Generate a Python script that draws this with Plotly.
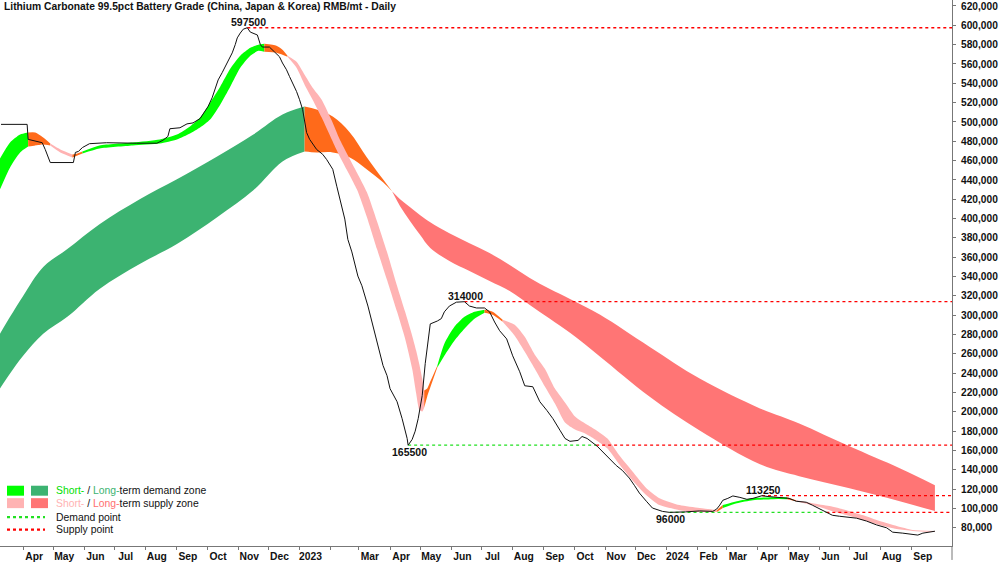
import plotly.graph_objects as go

TITLE = "Lithium Carbonate 99.5pct Battery Grade (China, Japan & Korea) RMB/mt - Daily"

# ---------------- price (black line) ----------------
price_dates = [
    "2022-03-10", "2022-04-05", "2022-04-06", "2022-04-15", "2022-04-20", "2022-04-23", "2022-04-28", "2022-05-21", "2022-05-23", "2022-05-26",
    "2022-05-30", "2022-06-06", "2022-06-23", "2022-07-23", "2022-08-12", "2022-08-18", "2022-08-23", "2022-08-25", "2022-09-04", "2022-09-11",
    "2022-09-17", "2022-09-24", "2022-09-28", "2022-10-02", "2022-10-06", "2022-10-09", "2022-10-12", "2022-10-16", "2022-10-19", "2022-10-22",
    "2022-10-26", "2022-10-29", "2022-10-31", "2022-11-03", "2022-11-06", "2022-11-10", "2022-11-13", "2022-11-20", "2022-11-23", "2022-11-25",
    "2022-12-02", "2022-12-07", "2022-12-12", "2022-12-15", "2022-12-19", "2022-12-22", "2022-12-25", "2022-12-29", "2023-01-01", "2023-01-04",
    "2023-01-08", "2023-01-11", "2023-01-18", "2023-01-24", "2023-01-28", "2023-02-03", "2023-02-07", "2023-02-10", "2023-02-15", "2023-02-18",
    "2023-02-22", "2023-02-28", "2023-03-04", "2023-03-10", "2023-03-15", "2023-03-20", "2023-03-25", "2023-03-29", "2023-04-01", "2023-04-08",
    "2023-04-13", "2023-04-18", "2023-04-19", "2023-04-23", "2023-04-26", "2023-04-29", "2023-05-03", "2023-05-06", "2023-05-09", "2023-05-11",
    "2023-05-18", "2023-05-22", "2023-05-25", "2023-05-30", "2023-06-06", "2023-06-14", "2023-06-19", "2023-06-26", "2023-07-04", "2023-07-09",
    "2023-07-14", "2023-07-19", "2023-07-26", "2023-08-01", "2023-08-08", "2023-08-13", "2023-08-21", "2023-08-28", "2023-09-04", "2023-09-10",
    "2023-09-17", "2023-09-22", "2023-09-27", "2023-10-05", "2023-10-09", "2023-10-14", "2023-10-24", "2023-11-03", "2023-11-12", "2023-11-18",
    "2023-11-25", "2023-11-30", "2023-12-05", "2023-12-12", "2023-12-18", "2023-12-28", "2024-01-04", "2024-01-20", "2024-02-03", "2024-02-16",
    "2024-02-20", "2024-02-23", "2024-02-26", "2024-03-02", "2024-03-07", "2024-03-14", "2024-03-21", "2024-03-27", "2024-04-05", "2024-04-10",
    "2024-04-20", "2024-05-02", "2024-05-09", "2024-05-19", "2024-05-25", "2024-06-04", "2024-06-14", "2024-06-21", "2024-06-28", "2024-07-08",
    "2024-07-18", "2024-07-28", "2024-08-07", "2024-08-13", "2024-08-23", "2024-09-02", "2024-09-07", "2024-09-12", "2024-09-24",
]
price_values = [
    497500, 497500, 482000, 480000, 478500, 471500, 458000, 458000, 468500, 469500,
    473500, 477500, 478500, 478000, 478000, 481000, 485000, 493000, 494000, 498000,
    499000, 503500, 509500, 516000, 525000, 533500, 543500, 551000, 557000, 564000,
    571500, 580000, 587000, 592000, 596000, 597500, 593000, 590000, 580000, 577500,
    577500, 572500, 567500, 561000, 554000, 547000, 540500, 531500, 523000, 513000,
    489000, 482000, 471500, 466500, 461000, 451000, 433500, 420000, 399500, 378500,
    365500, 340500, 330500, 309500, 289000, 268500, 248000, 237500, 224000, 210500,
    193000, 172500, 165500, 171500, 180000, 193000, 217000, 250000, 275500, 291000,
    294000, 296500, 303500, 309500, 313500, 314000, 309500, 307500, 307500, 303500,
    293000, 284000, 275500, 258000, 241500, 227000, 226000, 210500, 201500, 193000,
    181000, 172500, 169500, 170500, 174500, 172500, 164500, 154000, 144500, 139500,
    131500, 124000, 116000, 107500, 100500, 97000, 96000, 96500, 97500, 97000,
    99500, 103500, 108500, 110500, 113000, 111500, 109500, 110500, 113250, 112500,
    111500, 110500, 107500, 106500, 103500, 98500, 93000, 92000, 91000, 90000,
    87000, 83000, 80000, 75500, 74500, 73500, 72500, 74500, 76500,
]

# ---------------- short-term zone band ----------------
short_dates = [
    "2022-03-09", "2022-03-19", "2022-03-29", "2022-04-06", "2022-04-13", "2022-04-21", "2022-04-28", "2022-05-08", "2022-05-20", "2022-05-25",
    "2022-05-30", "2022-06-16", "2022-07-19", "2022-08-15", "2022-09-01", "2022-09-14", "2022-09-24", "2022-10-04", "2022-10-14", "2022-10-24",
    "2022-11-03", "2022-11-13", "2022-11-21", "2022-11-27", "2022-12-09", "2022-12-15", "2022-12-20", "2022-12-29", "2023-01-06", "2023-01-14",
    "2023-01-23", "2023-02-02", "2023-02-10", "2023-02-27", "2023-03-09", "2023-03-19", "2023-03-29", "2023-04-08", "2023-04-16", "2023-04-23",
    "2023-04-27", "2023-04-30", "2023-05-03", "2023-05-05", "2023-05-08", "2023-05-11", "2023-05-18", "2023-05-25", "2023-06-04", "2023-06-14",
    "2023-06-24", "2023-07-04", "2023-07-12", "2023-07-22", "2023-08-03", "2023-08-13", "2023-08-23", "2023-09-02", "2023-09-12", "2023-09-22",
    "2023-10-02", "2023-10-12", "2023-10-22", "2023-11-03", "2023-11-15", "2023-11-28", "2023-12-12", "2023-12-25", "2024-01-14", "2024-02-03",
    "2024-02-20", "2024-02-26", "2024-03-11", "2024-03-27", "2024-04-16", "2024-04-30", "2024-05-09", "2024-05-25", "2024-06-11", "2024-06-28",
    "2024-07-14", "2024-07-31", "2024-08-17", "2024-09-02", "2024-09-24",
]
short_upper = [
    462300, 478800, 487000, 489100, 489100, 483900, 477700, 471600, 466400, 467400,
    469500, 475700, 478800, 481900, 487000, 495300, 504500, 520000, 536500, 555100,
    568500, 576700, 579800, 580800, 578800, 574700, 568500, 562300, 548900, 535500,
    523100, 501400, 481900, 447800, 427200, 397300, 365400, 330300, 303500, 278800,
    263300, 249900, 234400, 222000, 224100, 231300, 247800, 270500, 288000, 298300,
    303500, 305600, 303500, 295200, 290100, 277700, 259200, 244700, 224100, 209700,
    195200, 188000, 181800, 172600, 155000, 138500, 121000, 110700, 103500, 100400,
    98300, 103500, 107600, 110700, 111700, 111700, 108600, 105500, 102500, 98300,
    93200, 87000, 81800, 77700, 76700,
]
short_lower = [
    430300, 453000, 468500, 474600, 475700, 476700, 475700, 468500, 463300, 465400,
    467400, 472600, 475700, 477700, 481900, 488000, 494200, 502500, 517900, 536500,
    556100, 568500, 573600, 572600, 571600, 569500, 567400, 556100, 538600, 523100,
    504500, 481900, 464300, 430300, 401400, 368500, 336500, 303500, 275700, 244700,
    219000, 202500, 200400, 204500, 215900, 225100, 245800, 258100, 273600, 286000,
    296300, 302500, 300400, 293200, 278800, 262300, 244700, 226200, 208600, 189100,
    181800, 177700, 171500, 162300, 145800, 129300, 113800, 103500, 98300, 96300,
    96300, 100400, 105500, 108600, 109700, 109700, 107600, 103500, 98300, 93200,
    88000, 82900, 78700, 76700, 75600,
]
# zone of the stretch starting at each point: D = demand, T = turning, S = supply
short_zone = [
    "D", "D", "D", "T", "T", "T", "S", "S", "T", "T",
    "D", "D", "D", "D", "D", "D", "D", "D", "D", "D",
    "D", "D", "D", "T", "T", "T", "S", "S", "S", "S",
    "S", "S", "S", "S", "S", "S", "S", "S", "S", "S",
    "S", "S", "S", "T", "T", "T", "D", "D", "D", "D",
    "D", "T", "T", "S", "S", "S", "S", "S", "S", "S",
    "S", "S", "S", "S", "S", "S", "S", "S", "S", "S",
    "T", "D", "D", "D", "D", "T", "S", "S", "S", "S",
    "S", "S", "S", "S", "S",
]

# ---------------- long-term zone band ----------------
long_dates = [
    "2022-03-09", "2022-03-19", "2022-04-01", "2022-04-21", "2022-05-15", "2022-06-16", "2022-07-26", "2022-09-01", "2022-10-11", "2022-11-16",
    "2022-12-15", "2023-01-06", "2023-01-18", "2023-02-03", "2023-02-20", "2023-03-09", "2023-03-25", "2023-04-03", "2023-04-11", "2023-04-21",
    "2023-05-01", "2023-05-11", "2023-05-30", "2023-06-19", "2023-07-09", "2023-07-29", "2023-08-18", "2023-09-07", "2023-09-27", "2023-10-27",
    "2023-12-15", "2024-02-03", "2024-04-03", "2024-05-12", "2024-07-01", "2024-08-20", "2024-09-24",
]
long_upper = [
    280800, 298300, 320000, 349900, 368500, 394200, 420000, 440600, 464300, 487000,
    507600, 515900, 512800, 505600, 489100, 463300, 440600, 428200, 420000, 411800,
    403500, 396300, 384900, 374600, 364300, 352000, 338600, 327200, 316900, 300400,
    267400, 234400, 203500, 188000, 164300, 141600, 124100,
]
long_lower = [
    224100, 239600, 258100, 280800, 298300, 327200, 353000, 373600, 401400, 429300,
    459200, 469500, 468500, 468500, 463300, 450900, 437500, 428200, 412800, 397300,
    382900, 369500, 356100, 345800, 335500, 325100, 310700, 296300, 281800, 257100,
    215900, 180800, 145800, 133400, 121000, 107600, 97300,
]
long_zone = ["D"] * 11 + ["T"] * 6 + ["S"] * 20

# ---------------- demand / supply points ----------------
point_dates = ["2022-11-10", "2023-04-19", "2023-06-14", "2024-01-04", "2024-04-05"]
point_values = [597500, 165500, 314000, 96000, 113250]
point_is_peak = [True, False, True, False, True]

demand_levels = [165500, 96000]
demand_start = ["2023-04-19", "2024-01-04"]
demand_end = ["2023-10-23", "2024-06-08"]

supply_levels = [597500, 314000, 165500, 113250, 96000]
supply_start = ["2022-11-10", "2023-06-14", "2023-10-23", "2024-04-05", "2024-06-08"]

x_start, x_end = "2022-03-09", "2024-10-11"

tick_dates = [
    "2022-04-01", "2022-05-01", "2022-06-01", "2022-07-01", "2022-08-01", "2022-09-01", "2022-10-01", "2022-11-01", "2022-12-01",
    "2023-01-01", "2023-02-01", "2023-03-01", "2023-04-01", "2023-05-01", "2023-06-01", "2023-07-01", "2023-08-01", "2023-09-01",
    "2023-10-01", "2023-11-01", "2023-12-01", "2024-01-01", "2024-02-01", "2024-03-01", "2024-04-01", "2024-05-01", "2024-06-01",
    "2024-07-01", "2024-08-01", "2024-09-01",
]
tick_text = [
    "Apr", "May", "Jun", "Jul", "Aug", "Sep", "Oct", "Nov", "Dec",
    "2023", "", "Mar", "Apr", "May", "Jun", "Jul", "Aug", "Sep",
    "Oct", "Nov", "Dec", "2024", "Feb", "Mar", "Apr", "May", "Jun",
    "Jul", "Aug", "Sep",
]
y_ticks = list(range(80000, 620001, 20000))

# ---------------- styling ----------------
FONT = "Liberation Sans, Arial, sans-serif"
LIME, DARK_GREEN, ORANGE, PINK, SALMON = "#00FF00", "#3CB371", "#FF6A1A", "#FFB3B3", "#FF7575"
SHORT_COLORS = {"D": LIME, "T": ORANGE, "S": PINK}
LONG_COLORS = {"D": DARK_GREEN, "T": ORANGE, "S": SALMON}
PLOT_W, PLOT_H = 952, 548

fig = go.Figure()


def add_band(dates, upper, lower, zones, colors, smoothing):
    n = len(dates)
    i = 0
    while i < n - 1:
        z = zones[i]
        j = i
        while j < n - 1 and zones[j] == z:
            j += 1
        xs = dates[i:j + 1]
        ln = dict(width=0, shape="spline", smoothing=smoothing)
        fig.add_trace(go.Scatter(x=xs, y=lower[i:j + 1], mode="lines", line=ln,
                                 hoverinfo="skip", showlegend=False))
        fig.add_trace(go.Scatter(x=xs, y=upper[i:j + 1], mode="lines", line=ln,
                                 fill="tonexty", fillcolor=colors[z],
                                 hoverinfo="skip", showlegend=False))
        i = j


add_band(long_dates, long_upper, long_lower, long_zone, LONG_COLORS, 1.0)
add_band(short_dates, short_upper, short_lower, short_zone, SHORT_COLORS, 0.6)

for lvl, s, e in zip(demand_levels, demand_start, demand_end):
    fig.add_trace(go.Scatter(x=[s, e], y=[lvl, lvl], mode="lines",
                             line=dict(color="#22E022", width=1.3, dash="dot"),
                             hoverinfo="skip", showlegend=False))
for lvl, s in zip(supply_levels, supply_start):
    fig.add_trace(go.Scatter(x=[s, x_end], y=[lvl, lvl], mode="lines",
                             line=dict(color="#FF0000", width=1.3, dash="dot"),
                             hoverinfo="skip", showlegend=False))

fig.add_trace(go.Scatter(x=price_dates, y=price_values, mode="lines",
                         line=dict(color="#111111", width=1),
                         showlegend=False))

annotations = []
for d, v, peak in zip(point_dates, point_values, point_is_peak):
    annotations.append(dict(
        x=d, y=v, xref="x", yref="y", text=str(v), showarrow=False,
        xanchor="center", yanchor="bottom" if peak else "top",
        yshift=-2 if peak else 1, xshift=1,
        font=dict(family=FONT, size=10.5, color="#111111", weight="bold")))

annotations.append(dict(
    x=2 / PLOT_W, y=1 - 7 / PLOT_H, xref="paper", yref="paper", text=TITLE,
    showarrow=False, xanchor="left", yanchor="middle",
    font=dict(family=FONT, size=10.3, color="#111111", weight="bold")))

legend_rows = [
    ("<span style='color:#00E000'>Short-</span> / <span style='color:#3CB371'>Long-</span>term demand zone", 492.5),
    ("<span style='color:#FFB3B3'>Short-</span> / <span style='color:#FF7070'>Long-</span>term supply zone", 505),
    ("Demand point", 519),
    ("Supply point", 531.5),
]
for text, py in legend_rows:
    annotations.append(dict(
        x=54 / PLOT_W, y=1 - py / PLOT_H, xref="paper", yref="paper", text=text,
        showarrow=False, xanchor="left", yanchor="middle",
        font=dict(family=FONT, size=10.4, color="#111111")))

shapes = []
for (c1, c2), py in zip([(LIME, DARK_GREEN), (PINK, SALMON)], [492.5, 505]):
    for c, x0 in zip((c1, c2), (7, 31)):
        shapes.append(dict(type="rect", xref="paper", yref="paper",
                           x0=x0 / PLOT_W, x1=(x0 + 17) / PLOT_W,
                           y0=1 - (py + 5) / PLOT_H, y1=1 - (py - 5) / PLOT_H,
                           fillcolor=c, line=dict(width=0)))
for c, py in [("#22E022", 519), ("#FF0000", 531.5)]:
    shapes.append(dict(type="line", xref="paper", yref="paper",
                       x0=7 / PLOT_W, x1=45 / PLOT_W, y0=1 - py / PLOT_H, y1=1 - py / PLOT_H,
                       line=dict(color=c, width=2.2, dash="dot")))
# right axis line continues below the x axis
shapes.append(dict(type="line", xref="paper", yref="paper", x0=1, x1=1, y0=0, y1=-14 / PLOT_H,
                   line=dict(color="#777777", width=1)))

fig.update_layout(
    width=1000, height=562,
    margin=dict(l=0, r=48, t=0, b=14),
    paper_bgcolor="white", plot_bgcolor="white",
    showlegend=False,
    annotations=annotations, shapes=shapes,
    xaxis=dict(
        type="date", range=[x_start, x_end],
        tickvals=tick_dates, ticktext=tick_text,
        ticks="outside", ticklen=3, tickcolor="#777777",
        ticklabelshift=11, ticklabelstandoff=-2,
        showline=True, linecolor="#777777", linewidth=1,
        showgrid=False, zeroline=False,
        tickfont=dict(family=FONT, size=10.3, color="#111111", weight="bold"),
    ),
    yaxis=dict(
        side="right", range=[61200, 626200],
        tickvals=y_ticks, tickformat=",d",
        ticks="outside", ticklen=3, tickcolor="#777777", ticklabelstandoff=3,
        showline=True, linecolor="#777777", linewidth=1,
        showgrid=False, zeroline=False,
        tickfont=dict(family=FONT, size=10.2, color="#111111", weight="bold"),
    ),
)

fig.write_html("out.html")
